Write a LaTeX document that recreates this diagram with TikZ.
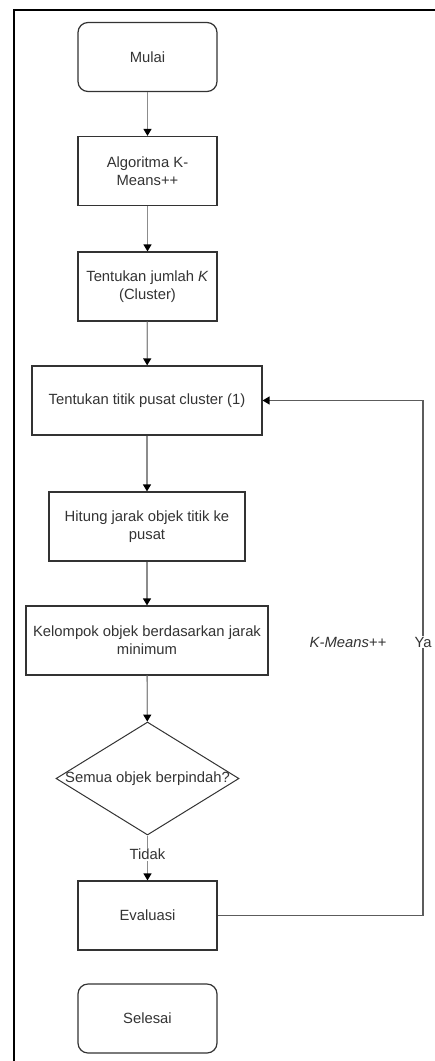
\documentclass[tikz,border=0pt]{standalone}
\usepackage{fontspec}
\setmainfont{Liberation Sans}
\usetikzlibrary{arrows.meta,shapes.geometric}

\definecolor{garis}{HTML}{8C8C8C}
\definecolor{tepi}{HTML}{333333}
\definecolor{teks}{HTML}{333333}

\tikzset{
        proses/.style={draw=tepi, line width=1.2pt, rectangle, minimum height=69pt, inner sep=2pt,
                align=center, text=teks, font=\fontsize{14.8}{18}\selectfont},
        terminal/.style={proses, rounded corners=10pt, minimum width=139pt},
        keputusan/.style={draw=tepi, line width=1pt, diamond, minimum width=183pt, minimum height=113pt, inner sep=0pt},
        panah/.style={draw=garis, line width=1.3pt, -{Triangle[black,length=7pt,width=8pt]}},
        label teks/.style={text=teks, font=\fontsize{14.8}{18}\selectfont, fill=white, inner sep=1pt}
}

\begin{document}
\begin{tikzpicture}[x=1pt,y=-1pt]

        \useasboundingbox (0,0) rectangle (435,1061);
        \draw[line width=2.5pt] (14,1061) -- (14,10) -- (435,10);

        \node[terminal] (mulai) at (147.5,57) {Mulai};
        \node[proses, minimum width=139pt] (algo) at (147.5,171) {Algoritma K-\\Means++};
        \node[proses, minimum width=139pt] (jumlah) at (147.5,286.5) {Tentukan jumlah \textit{K}\\(Cluster)};
        \node[proses, minimum width=230pt] (pusat) at (147,400.5) {Tentukan titik pusat cluster (1)};
        \node[proses, minimum width=196pt] (hitung) at (147,526.5) {Hitung jarak objek titik ke\\pusat};
        \node[proses, minimum width=242pt] (kelompok) at (147,640.5) {Kelompok objek berdasarkan jarak\\minimum};
        \node[keputusan] (cek) at (147.5,778.5) {};
        \node[label teks, fill=none] (cektext) at (cek.center) {Semua objek berpindah?};
        \node[proses, minimum width=139pt] (evaluasi) at (147.5,915.5) {Evaluasi};
        \node[terminal] (selesai) at (147.5,1018.5) {Selesai};

        \draw[panah] (mulai) -- (algo);
        \draw[panah] (algo) -- (jumlah);
        \draw[panah] (jumlah) -- (pusat);
        \draw[panah] (pusat) -- (hitung);
        \draw[panah] (hitung) -- (kelompok);
        \draw[panah] (kelompok) -- (cek);
        \draw[panah] (cek) -- node[label teks, pos=0.42] (tidak) {Tidak} (evaluasi);

        \coordinate (balik) at (423,915.5);
        \draw[panah, draw=tepi!80] (evaluasi.east) -- (balik) |- (pusat.east);
        \node[label teks] (ya) at (423,642) {Ya};
        \node[label teks, font=\fontsize{14.8}{18}\selectfont\itshape] (kmeans) at (348,642) {K-Means++};

\end{tikzpicture}
\end{document}
